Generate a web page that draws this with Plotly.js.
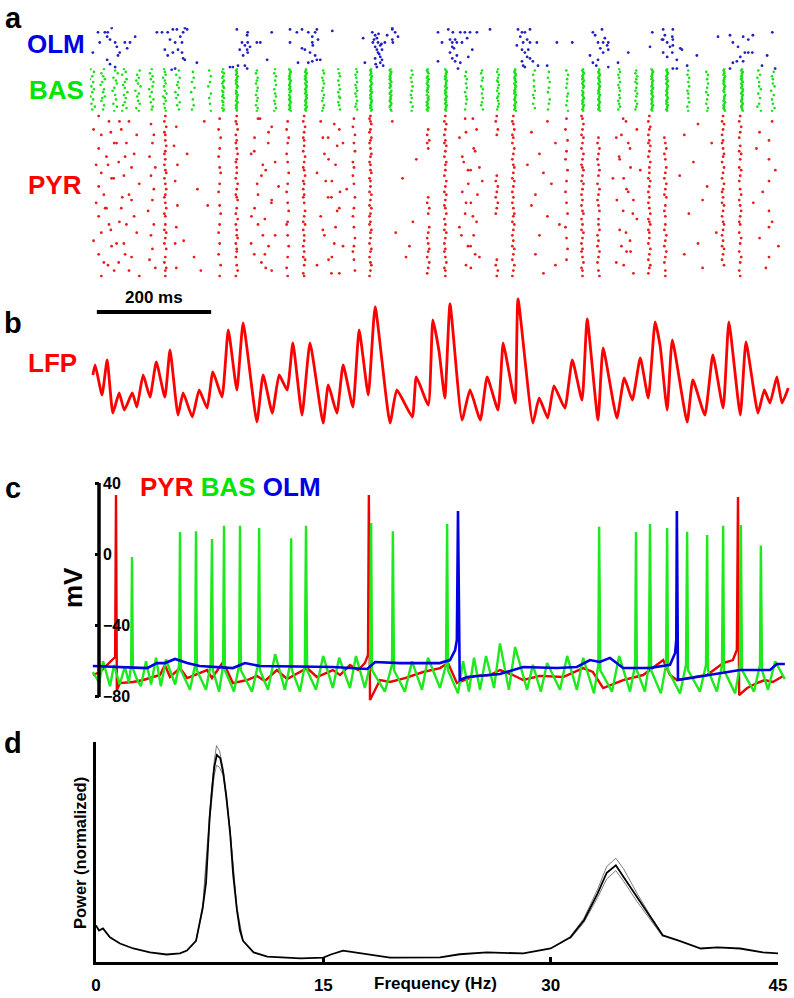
<!DOCTYPE html>
<html><head><meta charset="utf-8">
<script src="https://cdn.plot.ly/plotly-3.0.1.min.js"></script>
<style>html,body{margin:0;padding:0;background:#fff}#chart{width:794px;height:998px}</style>
</head><body><div id="chart"></div>
<script>
// ---------- panel a: raster (time in ms, cell index) ----------
const olmT = [
14,26,30,31,35,38,17,44,47,52,49,30,35,44,61,65,70,79,5,
117,126,136,145,152,140,149,158,161,163,166,170,131,136,145,154,163,166,149,143,187,161,
257,276,275,266,271,276,280,275,276,292,298,262,250,245,259,271,275,310,318,268,
350,362,371,382,389,394,397,399,389,390,371,376,385,394,397,389,403,350,364,382,424,
478,481,494,499,502,495,504,499,508,502,511,504,508,499,511,508,502,513,520,529,529,534,516,529,539,530,497,506,500,505,510,
609,627,635,648,656,665,677,700,616,630,639,642,634,637,651,660,642,634,639,648,644,662,669,634,609,630,
749,756,761,770,753,758,765,770,782,747,756,761,765,770,756,758,761,775,784,800,817,844,767,
880,884,896,889,898,907,905,907,893,898,875,889,880,886,907,924,942,901,
984,1003,1020,1006,1001,1019,1020,1010,1015,1020,1033,1036,1003,1019,1010,1027,1020,1027,980,1062,1045,1003,
1099,1120,1125,1134,1143,1152,1160,1146,1152,1159,1138,1132,1125,1120,1176,1185,1194,1199,1143];
const olmCell = [
3,3,6,3,8,0,10,10,13,17,19,22,25,27,10,14,10,6,17,
3,3,3,1,1,8,10,6,10,3,0,1,15,19,17,15,21,22,28,29,24,17,
1,3,5,10,12,10,13,15,17,10,10,15,27,27,26,26,28,22,3,19,
1,3,1,3,6,3,1,8,10,12,14,15,17,19,22,23,22,10,24,24,2,
7,24,3,5,7,10,10,13,12,15,15,17,20,21,22,24,27,26,5,0,8,3,10,1,6,10,8,18,25,4,11,
3,1,3,3,3,3,3,1,10,8,8,10,13,14,10,7,19,21,23,24,28,20,15,10,23,17,
1,3,3,1,6,10,8,10,10,12,15,17,20,21,23,26,27,23,26,26,10,10,15,
3,5,1,10,10,10,12,15,14,17,19,22,24,26,27,24,17,7,
3,1,1,5,8,6,8,10,13,12,14,15,17,17,20,22,28,28,13,19,26,8,
6,5,10,13,6,8,5,17,17,17,20,23,24,28,26,19,3,28,23];

// BAS: one string per gamma volley; char index = cell (0..29), digit = offset step from volley time
const basVolleyT = [4,23,44,61,84,108,131,154,180,210,233,257,292,324,350,378,408,436,466,492,526,563,591,623,658,686,714,744,777,803,835,863,891,926,956,984,1010,1047,1080,1110,1141,1171,1195];
const basVolleyCells = [
"3.7..5.2.6 ..4.7.5..3 .6..4.8.5.",
"6..3.5.7.4 .2..6.5..7 4.3..6..5.",
".5.8..3.6. 7..4.2..5. .6..3.7..4",
"4.6.2..7.5 .3.5..8.4. 6..5.3.7.2",
".7..4.6.3. 5.8..2.6.4 ..5.7..3.6",
"5..3.6.4.7 ..6.2.5..3 .7.4..6.5.",
"4.5.6.3.5. 6.4..5.7.3 5.6.4..5.6",
".6..3.7..5 .4.6..2.5. 3..7.4..6.",
"..5...6..4 ...7..3... .5...6..4.",
".4...6...5 ..3....6.. 4...5....6",
"5.46.54.65 4.56.45.54 6.45.5.465",
"5455465545 4565.45465 5546545455",
".5.4..6.5. 4..6.5..4. 6.5..4.6.5",
"5..4.6..5. .6..4..5.6 ..4.5..6.4",
"4565545465 5455465.45 5456545546",
"5546545456 4565455465 6545546545",
".5.6..4.5. 6..5.4..6. 5.4..6.5.4",
"4..5.6..4. .5..6.4..5 6..4.5..6.",
"5.6.4.5..6 .4.5.6.4.5 ..6.5.4.6.",
"5455465545 6545546545 4565545465",
"5465545456 4554.65465 5545654.56",
".5..6.4..5 ..6..5..4. 5..4..6..5",
"5456.54655 4565545.46 5654545645",
"4565545465 5546545456 5455465545",
"..5..4.6.. 5..6..4..5 .6..5...4.",
".5.4..6.5. ..4.6..5.. 6..5.4..6.",
"5.4.6.5.45 .6.5.4.6.5 4.5.6.5.4.",
"5545654556 4565545465 5456545546",
".6..4...5. ..5..6..4. 5...4..6..",
"..5...4..6 ...5..4... .6..5...4.",
".4..6..5.. 5..4...6.5 ..5..4...6",
"5456545465 4565.45545 6545465545",
"5545654556 4565545465 5456545546",
"5.6.4.5..6 .4.5.6..5. 6.4.5.6.4.",
".5.4.6.5.4 6..5.4.6.5 ..4.6.5.4.",
"4565545465 5546545456 5455465545",
"5456545465 4565545545 6545465545",
".5..4.6..5 ..6..4.5.. 5..6..4..5",
"..4.6..5.. 6..5..4.6. .5..4..6.5",
"5455465545 4565545.65 5546545456",
"5465545456 4554665465 5545654556",
".4..6.3..5 ..5.7..4.. 6...5.3..7",
"..6..4.5.. 5.7..3..6. .4..5..7.4"];
const basStepMs = 1.5;

// PYR: groups of spikes; char index = cell (0..59), digit = offset step from group time
const pyrGroupT = [22,66,108,131,150,185,226,256,303,345,374,420,461,490,550,591,621,664,711,740,790,833,861,889,936,978,1006,1060,1107,1137,1180,44,300,420,936,664];
const pyrGroupStep = [4.5,4.5,2.5,1.6,2,6,1.8,1.6,6,1.8,1.6,6.5,1.8,1.6,6,1.8,1.7,5,1.8,1.7,7,1.8,1.7,1.7,6,1.7,1.7,8,1.7,1.7,5.5,5,5,5,4,4];
const pyrGroupCells = [
"3.7..1.4.. 9.3..6..2. .4.8..3..5 ..2.6..3.. 7..4..1.8. .3..5..9.4",
"..5..2.8.. 4...7..1.6 ..3..9...5 .6..2..7.. 4..8...3.. ..6.1..5.9",
"...4...6.. 5....3...7 ..4....6.. .5...2.... 6...4....5 ...3..7...",
"5.4.6.45.5 .6.54.5.4. 56.4.5.6.5 4.5.6.45.. 5.46.5.4.6 ..5.4.65.5",
"....5..... .3......6. ....4..... ...6...... .5.....4.. ......5...",
"..7....... ....2..... .......5.. ...8...... ......1... ..4....6..",
".5...4..6. ..5..4...5 .6...5..4. ...5..6... 5..4...5.. .4...6...5",
"5.45.6.4.5 4.5.6.54.5 .5.4.6.5.4 56..5.4.6. 4.5.56.4.5 5.4..5.6.4",
".3..7...2. 6...1..8.. ..4...9..3 .7..2...5. 3...8..1.. .5..4..7..",
"..5..4..6. 5...4..5.. .6...5..4. ..5..6...5 4...5...6. ..5...4..5",
"5.4.6.5.45 .5.4.6.5.4 5.6.45.4.5 4.5..6.5.4 6.4.5.5.4. 5.46.5..45",
"..2..7..4. 8...3...6. .1..5..9.. 4...7..2.. .6..3...8. ..5..1..7.",
".5..4..6.. 5..6...4.5 ..4..5.... 6...5..4.. .5...6..5. 4..5...6..",
"5456.54.65 4.5.65.45. 56.45.5.46 .5.46.54.5 4.65.5.4.6 5.4.56.5.4",
"..1....... ......8... ...4...... .........7 ...2....6. ..5.......",
".....5.4.6 4.5....... .......... 5.4.6.5... .6.5.4.5.6 5.4.6.5.4.",
"5.46.5.4.5 46.5.4.65. 5.4.6.5.46 .5.45.6.4. 5.46.5.4.5 4.5.6.45.5",
".3...7..1. ..6..2...8 4...9...2. ..5...3..7 .1..6...4. ..8...5...",
"5.4..6.5.. .......... ..5.4.6.5. 4.6.5.4... .......... ...5.4.6.5",
"5.45.6.45. 4.6.5.4.56 .5.46.5.4. 5.4.5.65.4 6.5.4.5.46 .5.4.6.5.4",
"..6...2... 8...4...1. .5...7...3 ...2...6.. 9...4..... .3...8..5.",
".5...4...6 ...5..4... 6...5...4. ..5...6... .4...5...6 ...5......",
"45.6.5.46. 5.4.6.5.45 6.5.46.5.4 .5.4.56.4. 5.46.5.4.5 4.5.6.45.5",
"........5. 4.6.5.4.5. 6.5..4.6.5 .4.5.6..5. 5.6.4.5.4. 6.5.4..5.6",
".4...8..2. ..6...3... 9..1...5.. .7...4..8. ..3...6... 5...2...7.",
"5.4.65.4.5 46.5.4.6.5 .5.46.5.4. 5.4.5.6.45 6.45.5.4.6 .5.4.65.4.",
"........4. 5.6.4.5..6 .5.4.6.5.4 6..5.4.5.. 5.4.6.5.4. 6.5.4..5.5",
"...5...2.. 8......4.. ..1...7... .6....3... ...9...5.. .2....6...",
"5.46.5.4.5 4.5.65.4.6 .5.4.6.54. 5.46.5.4.5 6.5.4.5.46 .5.4.6....",
"5.4.6.5.4. .5.46.5..4 6.5.4..5.6 .4.5.6.5.4 5..4.6.5.. 4.6.5..4.5",
"..7...3..6 ..2...6... 8...6...4. ..1..6...7 .6...3..9. ..6...5...",
"..6...3... 5....8..2. ...4...... 7...1....6 ..3....5.. .8...2....",
".4....7... ...2....5. 6....3.... ..8....1.. ....5...7. .2....6...",
"...6....2. .7....4... ....3...8. 5....7.... ..2....6.. ...4....5.",
"..5....3.. 6....2...7 ...4....6. .1....8... ...5....3. 7....4....",
".6....3... ...7...2.. 5....4...8 ..3....6.. ....1...5. .7...3...."];

// ---------- panel b: LFP (a.u.) ----------
const lfpT = [5,9,21,30,40,51,60,74,82,93,105,116,131,140,154,163,179,191,205,215,231,242,257,268,292,303,319,331,345,355,371,385,408,417,432,443,460,471,487,499,525,537,564,571,592,600,611,621,630,651,665,683,695,714,723,731,744,749,775,786,801,812,831,844,861,870,889,898,922,935,949,963,977,989,998,1010,1019,1045,1055,1076,1090,1108,1118,1138,1148,1169,1180,1190,1202,1211,1222];
const lfpV = [4.8,5.8,2.8,6.3,1.0,3.0,1.3,3.0,1.6,4.8,2.6,6.1,2.6,7.3,0.8,3.0,0.6,3.3,1.5,5.1,2.6,9.3,3.3,10.0,0.1,4.8,1.0,4.8,3.3,8.0,0.8,8.0,0,3.8,1.0,5.8,1.6,9.3,2.8,11.6,0,3.3,0.6,4.6,1.8,10.3,7.1,2.5,11.9,0.3,3.3,0.3,4.6,1.3,8.0,5.8,2.0,12.4,0,2.5,0.5,3.7,1.5,6.3,2.3,10.4,0.3,7.5,0.5,4.5,2.3,6.5,2.5,10.1,7.6,1.3,8.3,0.1,4.3,0.8,6.8,1.5,10.1,0.8,8.1,1.0,3.3,2.0,4.6,2.0,3.5];
const scaleBarMs = [12, 212];

// ---------- panel c: membrane potentials (ms, mV) ----------
const vPyrT = [5,17.5,35,44,45.5,47,52.5,75,93,122.5,131,140,157.5,170,205,213.5,233,250,275,292,306,327,345,380,397,425,437.5,455,469,481,486.5,488,490,507.5,525,551,583,612.5,626.5,642,674,700,717.5,740,758,787.5,828,863,880,898,933,968,1003,1015,1027,1080,1108,1125,1132,1134,1136,1150,1167,1181,1195,1213];
const vPyrV = [-67.7,-66,-60.4,-57.6,33.3,-76.1,-72.2,-71.6,-70.5,-67.7,-62.1,-68.8,-63.8,-69.4,-64.9,-69.4,-60.4,-72.2,-70.5,-68.2,-71,-64.9,-69.9,-63.8,-68.8,-64.9,-67.7,-62.1,-64.9,-61,-56.5,33.3,-81.7,-70.5,-71.6,-69.4,-66,-63.8,-61,-72.2,-68.2,-67.7,-64.9,-67.7,-70.5,-68.2,-68.8,-63.8,-66,-75,-70.5,-67.7,-59.3,-67.7,-70.5,-67.7,-61,-59.3,-53.7,32.1,-79,-75,-72.2,-70.5,-71.6,-68.2];
const vBasT = [5,16,23,35,42,52,61,68,72,73.5,75,82,89,98,107,115.5,124,133,149,156,157.5,159,175,184,185.5,187,203,211,213.5,215,226,233,234.5,236,252,261,262.5,264,283.5,294,296,297.5,311.5,324,341,350,352,353.5,367.5,376,378,380,395.5,408,425,436,455,465.5,481,490,492,493.5,516,528.5,530,532,551,563.5,581,591.5,612.5,623,625,626.5,644,653,663,672,682.5,693,707,717.5,733,744,765,775,789,800,822.5,835,852,863,882,889.5,891,893,913.5,926,945,954,955.5,957,971,978,980,982,999,1008,1010,1011.5,1032.5,1043,1045,1046.5,1067.5,1078,1080,1081.5,1097,1106,1108,1109.5,1129,1137.5,1139,1141,1162,1172.5,1174,1176,1186.5,1199,1216];
const vBasV = [-66,-72,-60,-74,-62,-73,-63,-72,-62,-1.5,-64,-70,-74,-60,-73,-58,-74,-59,-73,-62,12.5,-65,-76,-62,13,-65,-76,-62,8.6,-65,-77,-62,16,-65,-77,-62,16,-65,-77,-62,14.8,-65,-76,-56,-76,-62,9,-65,-77,-62,16,-65,-76,-57,-75,-58,-75,-57,-75,-62,17.6,-65,-77,-62,13,-65,-77,-60,-76,-58,-75,-62,17,-65,-78,-60,-77,-58,-76,-57,-75,-50,-76,-52,-76,-62,-77,-61,-76,-57,-76,-58,-78,-62,15.5,-65,-77,-57,-77,-62,12.5,-65,-77,-62,17,-65,-78,-62,14.8,-65,-78,-62,12.6,-65,-77,-62,10.8,-65,-77,-62,16,-65,-78,-62,16.5,-65,-77,-62,5,-65,-76,-60,-70];
const vOlmT = [5,100,117,131,149,170,192,250,271,297,425,485,499,542,612,630,639,642,644,647,660,717.5,758,817,852,875,892,910,933,980,1015,1024,1026,1027,1029,1080,1137.5,1190,1202,1216];
const vOlmV = [-62.6,-63.8,-61,-61,-58.7,-61,-62.6,-63.8,-61,-62.6,-63.2,-64.3,-60.4,-61,-61,-59.3,-53.7,-48,24.3,-70.5,-68.8,-67.1,-63.2,-63.8,-63.2,-59.3,-60.4,-58.1,-63.8,-63.8,-62,-55.3,-48,24.3,-70.5,-67.7,-64.9,-64.9,-61.5,-61.5];
const mvTickVals = [40, 0, -40, -80];
const mvTickText = ['40', '0', '\u221240', '\u221280'];

// ---------- panel d: power spectrum ----------
const freqHz = [0,0.2,0.46,0.7,0.92,1.58,2.46,3.56,4.66,5.54,6.0,6.6,7.04,7.26,7.5,7.66,7.8,7.97,8.2,8.4,8.6,8.85,9.05,9.3,9.5,9.7,10.4,11.3,12.5,13.5,15,15.5,16.3,17.9,19.4,22.7,24,25.8,27,28.2,30,31.3,32.2,33.1,33.7,34.3,34.8,35.7,36.6,37.4,38.5,39.9,41,42.5,44,45];
const power = [0.175,0.15,0.16,0.136,0.117,0.087,0.063,0.044,0.034,0.039,0.053,0.10,0.26,0.38,0.70,0.84,0.94,1.0,0.985,0.91,0.80,0.62,0.42,0.25,0.15,0.10,0.044,0.024,0.018,0.015,0.019,0.034,0.053,0.034,0.019,0.02,0.035,0.044,0.04,0.039,0.063,0.117,0.2,0.33,0.43,0.466,0.41,0.31,0.21,0.126,0.10,0.063,0.068,0.063,0.044,0.039];
const thetaF = [6.6,7.04,7.5,7.8,7.95,8.15,8.4,8.85,9.3,9.7];
const thetaHi = [0.10,0.27,0.72,0.97,1.045,1.02,0.93,0.64,0.26,0.10];
const thetaLo = [0.10,0.25,0.68,0.90,0.95,0.94,0.90,0.63,0.24,0.10];
const gammaF = [31.3,32.2,33.1,33.7,34.3,34.8,35.7,36.6,37.4];
const gammaHi = [0.12,0.21,0.35,0.46,0.50,0.45,0.33,0.22,0.13];
const gammaLo = [0.11,0.19,0.31,0.40,0.44,0.39,0.29,0.20,0.12];
const freqTicks = [0, 15, 30, 45];

// ---------- decoding helpers ----------
function decode(times, steps, strings, center, maxCells) {
  const xs = [], ys = [];
  times.forEach((T, g) => {
    const s = strings[g].replace(/ /g, '');
    for (let i = 0; i < s.length && i < maxCells; i++) {
      const d = s.charCodeAt(i) - 48;
      if (d >= 0 && d <= 9) { xs.push(T + (d - center) * steps[g]); ys.push(i); }
    }
  });
  return {xs, ys};
}
const bas = decode(basVolleyT, basVolleyT.map(() => basStepMs), basVolleyCells, 5, 30);
const pyr = decode(pyrGroupT, pyrGroupStep, pyrGroupCells, 4.5, 60);

const FONT = 'Liberation Sans, Arial, Helvetica, sans-serif';
const RED = '#ff0000', GREEN = '#00e600', BLUE = '#0000e6';
const W = 794, H = 998;
const px = v => v / W, py = v => 1 - v / H;

const traces = [
  {type:'scatter', mode:'markers', x: olmT, y: olmCell, xaxis:'x', yaxis:'y',
   marker:{color:'#2020c0', size:2.8}},
  {type:'scatter', mode:'markers', x: bas.xs, y: bas.ys, xaxis:'x', yaxis:'y2',
   marker:{color:'#19e019', size:2.6}},
  {type:'scatter', mode:'markers', x: pyr.xs, y: pyr.ys, xaxis:'x', yaxis:'y3',
   marker:{color:'#e81c1c', size:2.8}},
  {type:'scatter', mode:'lines', x: lfpT, y: lfpV, xaxis:'x2', yaxis:'y4',
   line:{color:'#ff0000', width:2.8, shape:'spline', smoothing:0.45}},
  {type:'scatter', mode:'lines', x: vPyrT, y: vPyrV, xaxis:'x3', yaxis:'y5',
   line:{color:'#ee0000', width:2.4}},
  {type:'scatter', mode:'lines', x: vBasT, y: vBasV, xaxis:'x3', yaxis:'y5',
   line:{color:'#1ee81e', width:2.4}},
  {type:'scatter', mode:'lines', x: vOlmT, y: vOlmV, xaxis:'x3', yaxis:'y5',
   line:{color:'#0000e0', width:2.6}},
  {type:'scatter', mode:'lines', x: thetaF, y: thetaHi, xaxis:'x4', yaxis:'y6', line:{color:'#444', width:0.7}},
  {type:'scatter', mode:'lines', x: thetaF, y: thetaLo, xaxis:'x4', yaxis:'y6', line:{color:'#444', width:0.7}},
  {type:'scatter', mode:'lines', x: gammaF, y: gammaHi, xaxis:'x4', yaxis:'y6', line:{color:'#444', width:0.7}},
  {type:'scatter', mode:'lines', x: gammaF, y: gammaLo, xaxis:'x4', yaxis:'y6', line:{color:'#444', width:0.7}},
  {type:'scatter', mode:'lines', x: freqHz, y: power, xaxis:'x4', yaxis:'y6', line:{color:'#000', width:1.8}}
];

const hidden = {visible:false, showgrid:false, zeroline:false, fixedrange:true};
const tDom = [px(90), px(790)];
const layout = {
  width: W, height: H, margin:{l:0, r:0, t:0, b:0},
  paper_bgcolor:'#fff', plot_bgcolor:'rgba(0,0,0,0)',
  showlegend:false, hovermode:false,
  font:{family:FONT, color:'#000'},
  xaxis:  Object.assign({}, hidden, {domain:tDom, range:[0,1225], anchor:'y3'}),
  yaxis:  Object.assign({}, hidden, {domain:[py(70.7), py(27.3)], range:[29.5,-0.5], anchor:'x'}),
  yaxis2: Object.assign({}, hidden, {domain:[py(111.7), py(68.3)], range:[29.5,-0.5], anchor:'x'}),
  yaxis3: Object.assign({}, hidden, {domain:[py(277.4), py(114.6)], range:[59.5,-0.5], anchor:'x'}),
  xaxis2: Object.assign({}, hidden, {domain:tDom, range:[0,1225], anchor:'y4'}),
  yaxis4: Object.assign({}, hidden, {domain:[py(430), py(294)], range:[-0.7,12.9], anchor:'x2'}),
  xaxis3: Object.assign({}, hidden, {domain:tDom, range:[0,1225], anchor:'y5'}),
  yaxis5: {domain:[py(702), py(480)], range:[-82.83, 41.68], anchor:'free', position:px(99),
           showgrid:false, zeroline:false, showline:false, fixedrange:true,
           tickmode:'array', tickvals:mvTickVals, showticklabels:false,
           ticks:'outside', ticklen:4, tickwidth:3, tickcolor:'#000'},
  xaxis4: {domain:[px(96), px(778)], range:[0,45], anchor:'y6', showgrid:false, zeroline:false,
           showline:true, linewidth:3.5, linecolor:'#000', fixedrange:true,
           tickmode:'array', tickvals:freqTicks, ticks:'inside', ticklen:5, tickwidth:3, tickcolor:'#000',
           ticklabelstandoff:6, tickfont:{family:FONT, size:17, color:'#000', weight:'bold'}},
  yaxis6: {domain:[py(961.5), py(742)], range:[0,1.063], anchor:'x4', showgrid:false, zeroline:false,
           showline:true, linewidth:3.5, linecolor:'#000', showticklabels:false, ticks:'', fixedrange:true},
  shapes: [
    {type:'line', xref:'x2', yref:'paper', x0:scaleBarMs[0], x1:scaleBarMs[1], y0:py(312), y1:py(312),
     line:{color:'#000', width:4}},
    {type:'line', xref:'paper', yref:'y5', x0:px(99), x1:px(99), y0:-80, y1:40,
     line:{color:'#000', width:3.5}}
  ],
  annotations: []
};
function label(text, x, y, size, color, extra) {
  layout.annotations.push(Object.assign({text:'<b>'+text+'</b>', xref:'paper', yref:'paper',
    x:px(x), y:py(y), xanchor:'center', yanchor:'middle', showarrow:false,
    font:{family:FONT, size:size, color:color}}, extra || {}));
}
// mV tick labels placed on the mV axis scale
mvTickVals.forEach((v, i) => {
  layout.annotations.push({text:'<b>'+mvTickText[i]+'</b>', xref:'paper', yref:'y5', x:px(101), y:v,
    xanchor:'left', yanchor:'middle', showarrow:false, font:{family:FONT, size:16, color:'#000'}});
});
label('a', 13, 18, 29, '#000');
label('b', 13, 323, 29, '#000');
label('c', 13, 488, 29, '#000');
label('d', 13, 743, 29, '#000');
label('OLM', 56, 44, 26, BLUE);
label('BAS', 56, 90, 26, GREEN);
label('PYR', 55, 185, 26, RED);
label('LFP', 53, 363, 26, RED);
label('200 ms', 154, 298, 17, '#000');
label('<span style="color:'+RED+'">PYR</span> <span style="color:'+GREEN+'">BAS</span> <span style="color:'+BLUE+'">OLM</span>', 230, 487, 26, '#000');
label('mV', 73, 588, 26, '#000', {textangle:-90});
label('Frequency (Hz)', 435, 983, 17, '#000');
label('Power (normalized)', 80, 853, 16.5, '#000', {textangle:-90});

Plotly.newPlot('chart', traces, layout, {staticPlot:true, displayModeBar:false});
</script></body></html>
